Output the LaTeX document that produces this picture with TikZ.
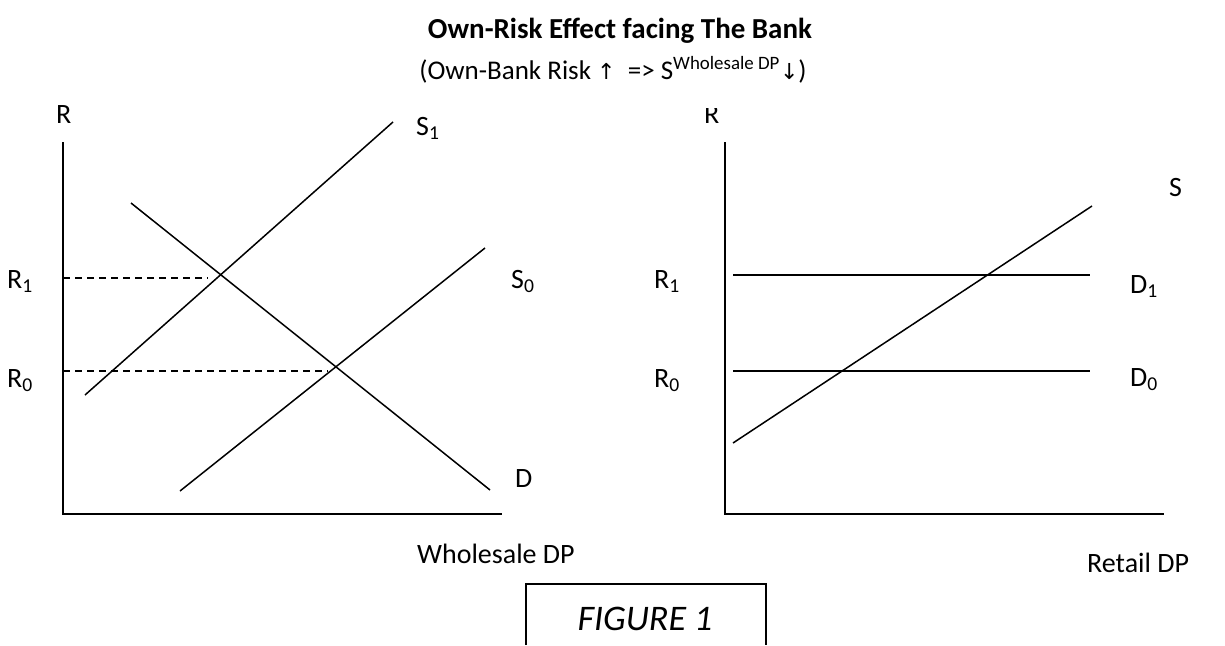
\documentclass[tikz,border=0pt]{standalone}
\usepackage{fontspec}
\setmainfont{Carlito}
\newfontfamily\symfont{DejaVu Sans}
\begin{document}
\begin{tikzpicture}[x=1pt,y=-1pt,
  axis/.style={line width=2pt},
  curve/.style={line width=1.5pt},
  guide/.style={line width=1.3pt,dash pattern=on 7pt off 5pt},
  lbl/.style={inner sep=0pt,anchor=base west,font=\fontsize{28}{32}\selectfont}]
\useasboundingbox (0,0) rectangle (1225,645);
% title
\node[inner sep=0pt,anchor=base,font=\fontsize{29}{34}\selectfont\bfseries] (title) at (620,38) {Own-Risk Effect facing The Bank};
\node[inner sep=0pt,anchor=base,font=\fontsize{27}{32}\selectfont] (sub) at (613,79) {(Own-Bank Risk {\symfont\fontsize{22}{26}\selectfont↑}\ \ => S\textsuperscript{Wholesale DP}{\symfont\fontsize{22}{26}\selectfont↓})};
% left panel
\coordinate (LY) at (63,142);
\coordinate (LO) at (63,514);
\coordinate (LX) at (502,514);
\draw[axis] (LY) -- (LO) -- (LX);
\coordinate (s1a) at (85,395); \coordinate (s1b) at (393,122);
\coordinate (da) at (131,203); \coordinate (db) at (490,490);
\coordinate (s0a) at (180,491); \coordinate (s0b) at (485,248);
\draw[curve] (s1a) -- (s1b);
\draw[curve] (da) -- (db);
\draw[curve] (s0a) -- (s0b);
\coordinate (r1a) at (63,278); \coordinate (r1b) at (208,278);
\coordinate (r0a) at (63,371); \coordinate (r0b) at (328,371);
\draw[guide] (r1a) -- (r1b);
\draw[guide] (r0a) -- (r0b);
\node[lbl] (lR) at (56,123) {R};
\node[lbl] (lR1) at (7,288) {R\textsubscript{1}};
\node[lbl] (lR0) at (7,387) {R\textsubscript{0}};
\node[lbl] (lS1) at (416,135) {S\textsubscript{1}};
\node[lbl] (lS0) at (511,288) {S\textsubscript{0}};
\node[lbl] (lD) at (515,487) {D};
\node[lbl] (lX) at (417,563) {Wholesale DP};
% right panel
\coordinate (RY) at (725,142);
\coordinate (RO) at (725,514);
\coordinate (RX) at (1164,514);
\draw[axis] (RY) -- (RO) -- (RX);
\coordinate (sa) at (733,443); \coordinate (sb) at (1092,206);
\coordinate (d1a) at (733,275); \coordinate (d1b) at (1090,275);
\coordinate (d0a) at (733,371); \coordinate (d0b) at (1090,371);
\draw[curve] (sa) -- (sb);
\draw[curve] (d1a) -- (d1b);
\draw[curve] (d0a) -- (d0b);
\begin{scope}
\clip (690,108) rectangle (735,135);
\node[lbl] (rR) at (704,123) {R};
\end{scope}
\node[lbl] (rR1) at (654,288) {R\textsubscript{1}};
\node[lbl] (rR0) at (654,387) {R\textsubscript{0}};
\node[lbl] (rS) at (1169,196) {S};
\node[lbl] (rD1) at (1130,293) {D\textsubscript{1}};
\node[lbl] (rD0) at (1130,386) {D\textsubscript{0}};
\node[lbl] (rX) at (1087,572) {Retail DP};
% figure box
\coordinate (fa) at (526,645); \coordinate (fb) at (526,584);
\coordinate (fc) at (766,584); \coordinate (fd) at (766,645);
\draw[line width=1.5pt] (fa) -- (fb) -- (fc) -- (fd);
\node[inner sep=0pt,anchor=base,font=\fontsize{36}{40}\selectfont\itshape] (fig) at (645,630) {FIGURE 1};
\end{tikzpicture}
\end{document}
